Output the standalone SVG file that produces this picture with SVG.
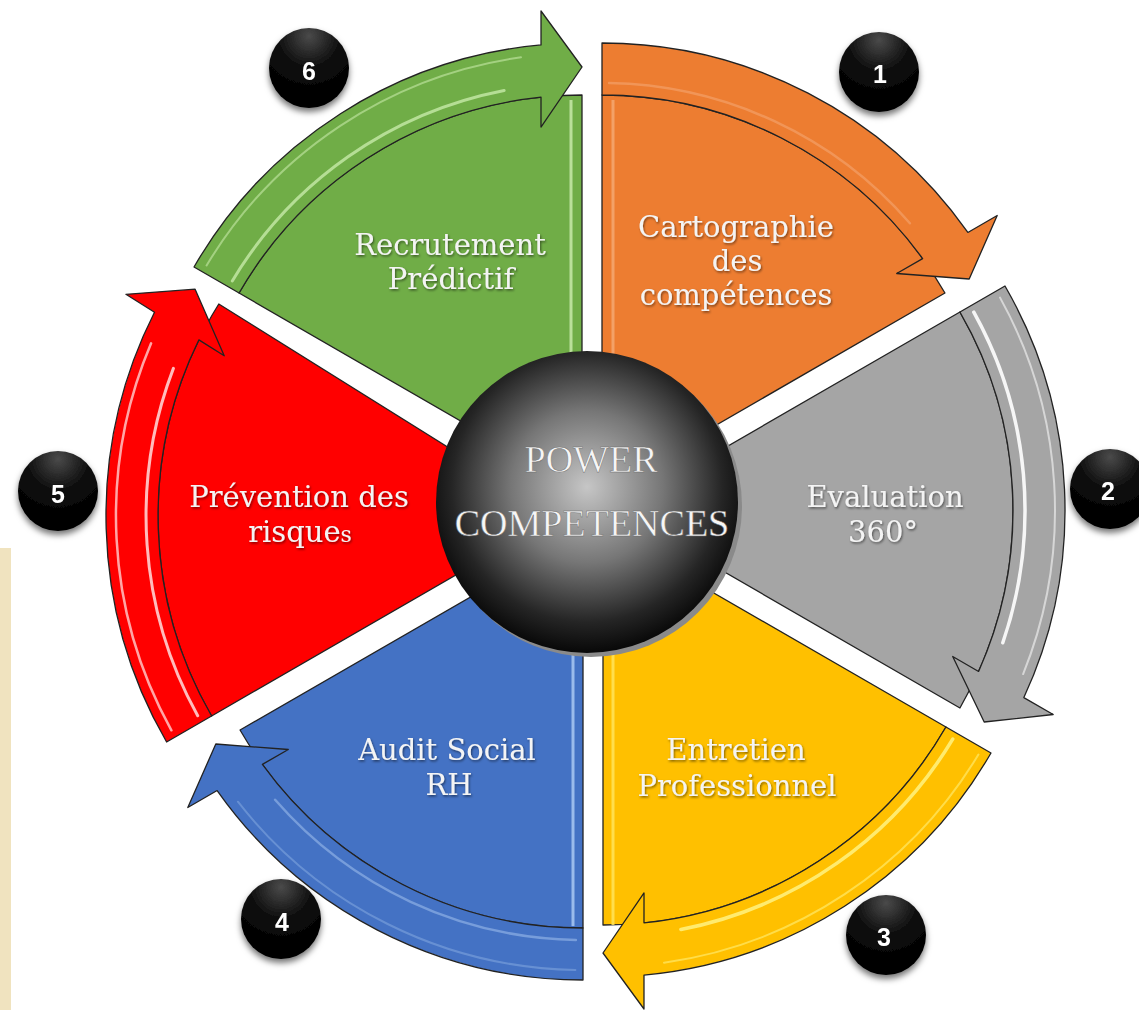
<svg xmlns="http://www.w3.org/2000/svg" xmlns:xlink="http://www.w3.org/1999/xlink" width="1139" height="1010" viewBox="0 0 1139 1010">
<style>
.edge{stroke:#222;stroke-width:1.3;stroke-linejoin:round}
.hl{fill:none;stroke-linecap:round}
.lbl{font-family:"DejaVu Serif","Liberation Serif",serif;font-size:29px;fill:#f4f4f4;text-anchor:middle}
.num{font-family:"Liberation Sans",Arial,sans-serif;font-weight:bold;font-size:25px;fill:#fff;text-anchor:middle}
.ctr{font-family:"Liberation Serif","Times New Roman",serif;font-size:38px;fill:#f6f6f6;stroke:#6a6a6a;stroke-width:0.5;text-anchor:middle}
.badge{fill:url(#badgeGrad)}
</style>
<defs>
  <path id="arrowShape" d="M0,-448 A448,448 0 0 1 365.86,-258.56 L395.2,-275.5 L367.2,-212 L294.7,-217.5 L320.61,-232.43 A396,396 0 0 0 0,-396 Z"/>
  <path id="wedgeShape" d="M0,0 L0,-396 A396,396 0 0 1 342.95,-198 Z"/>
  <path id="hlInner" d="M7.1,-407.9 A408,408 0 0 1 307.9,-267.7"/>
  <path id="hlOuter" d="M7.6,-437.9 A438,438 0 0 1 345.1,-269.7"/>
  <radialGradient id="badgeGrad" cx="0.5" cy="0.1" r="0.8">
    <stop offset="0" stop-color="#4a4a4a"/>
    <stop offset="0.5" stop-color="#0d0d0d"/>
    <stop offset="1" stop-color="#000"/>
  </radialGradient>
  <radialGradient id="centerGrad" cx="0.5" cy="0.45" r="0.56">
    <stop offset="0" stop-color="#c6c6c6"/>
    <stop offset="0.45" stop-color="#767676"/>
    <stop offset="0.8" stop-color="#252525"/>
    <stop offset="1" stop-color="#050505"/>
  </radialGradient>
  <filter id="txtShadow" x="-10%" y="-40%" width="120%" height="180%">
    <feDropShadow dx="1" dy="1.5" stdDeviation="1.2" flood-color="#000" flood-opacity="0.5"/>
  </filter>
  <filter id="badgeShadow" x="-30%" y="-30%" width="160%" height="175%">
    <feDropShadow dx="0" dy="4" stdDeviation="3" flood-color="#000" flood-opacity="0.55"/>
  </filter>
</defs>

<rect x="0" y="0" width="1139" height="1010" fill="#ffffff"/>
<rect x="0" y="548" width="11" height="462" fill="#F0E3BF"/>

<!-- Nodes: wedges and labels -->
<g id="node1">
  <use xlink:href="#wedgeShape" href="#wedgeShape" transform="translate(602,491)" fill="#ED7D31" class="edge"/>
  <line x1="613" y1="100" x2="613" y2="400" stroke="#f7b98c" stroke-width="3" opacity="0.6"/>
  <g filter="url(#txtShadow)">
    <text class="lbl" x="736" y="237">Cartographie</text>
    <text class="lbl" x="737" y="271">des</text>
    <text class="lbl" x="736" y="305">compétences</text>
  </g>
</g>
<g id="node2">
  <use xlink:href="#wedgeShape" href="#wedgeShape" transform="translate(617,510) rotate(60)" fill="#A5A5A5" class="edge"/>
  <g filter="url(#txtShadow)">
    <text class="lbl" x="885" y="507">Evaluation</text>
    <text class="lbl" x="883" y="542">360°</text>
  </g>
</g>
<g id="node3">
  <use xlink:href="#wedgeShape" href="#wedgeShape" transform="translate(603,529) rotate(120)" fill="#FFC000" class="edge"/>
  <line x1="613" y1="640" x2="613" y2="925" stroke="#ffe45a" stroke-width="3" opacity="0.85"/>
  <g filter="url(#txtShadow)">
    <text class="lbl" x="736" y="760">Entretien</text>
    <text class="lbl" x="737" y="796">Professionnel</text>
  </g>
</g>
<g id="node4">
  <use xlink:href="#wedgeShape" href="#wedgeShape" transform="translate(583,532) rotate(180)" fill="#4472C4" class="edge"/>
  <line x1="573" y1="640" x2="573" y2="926" stroke="#a9c8f2" stroke-width="3" opacity="0.85"/>
  <g filter="url(#txtShadow)">
    <text class="lbl" x="447" y="760">Audit Social</text>
    <text class="lbl" x="449" y="795">RH</text>
  </g>
</g>
<g id="node5">
  <path d="M558,516 L211.6,716 A400,400 0 0 1 218.8,304 Z" fill="#FF0000" class="edge"/>
  <g filter="url(#txtShadow)">
    <text class="lbl" x="299" y="507">Prévention des</text>
    <text class="lbl" x="300" y="542">risque<tspan font-size="22px">s</tspan></text>
  </g>
</g>
<g id="node6">
  <use xlink:href="#wedgeShape" href="#wedgeShape" transform="translate(582,491) rotate(-60)" fill="#70AD47" class="edge"/>
  <line x1="571" y1="100" x2="571" y2="400" stroke="#c7eaa9" stroke-width="3" opacity="0.85"/>
  <g filter="url(#txtShadow)">
    <text class="lbl" x="450" y="255">Recrutement</text>
    <text class="lbl" x="451" y="289">Prédictif</text>
  </g>
</g>

<!-- Connectors: circular arrows -->
<g id="connectors">
  <g transform="translate(602,491)">
    <use xlink:href="#arrowShape" href="#arrowShape" fill="#ED7D31" class="edge"/>
    <use xlink:href="#hlInner" href="#hlInner" class="hl" stroke="#f8c3a0" stroke-width="2.5" opacity="0.35"/>
  </g>
  <g transform="translate(617,510) rotate(60)">
    <use xlink:href="#arrowShape" href="#arrowShape" fill="#A5A5A5" class="edge"/>
    <use xlink:href="#hlInner" href="#hlInner" class="hl" stroke="#ffffff" stroke-width="3.5" opacity="0.9"/>
    <use xlink:href="#hlOuter" href="#hlOuter" class="hl" stroke="#ffffff" stroke-width="2" opacity="0.55"/>
  </g>
  <g transform="translate(603,529) rotate(120)">
    <use xlink:href="#arrowShape" href="#arrowShape" fill="#FFC000" class="edge"/>
    <use xlink:href="#hlInner" href="#hlInner" class="hl" stroke="#fff07a" stroke-width="3.5" opacity="0.9"/>
    <use xlink:href="#hlOuter" href="#hlOuter" class="hl" stroke="#fff07a" stroke-width="2" opacity="0.6"/>
  </g>
  <g transform="translate(583,532) rotate(180)">
    <use xlink:href="#arrowShape" href="#arrowShape" fill="#4472C4" class="edge"/>
    <use xlink:href="#hlInner" href="#hlInner" class="hl" stroke="#a9c8f2" stroke-width="2.5" opacity="0.5"/>
    <use xlink:href="#hlOuter" href="#hlOuter" class="hl" stroke="#a9c8f2" stroke-width="2" opacity="0.35"/>
  </g>
  <g>
    <path d="M166.6,742 A452,452 0 0 1 154.5,312.2 L125.9,294.3 L195.1,289.2 L224.2,355.8 L198.9,339.9 A400,400 0 0 0 211.6,716 Z" fill="#FF0000" class="edge"/>
    <path d="M197.7,715.7 A412,412 0 0 1 173.4,368.4" class="hl" stroke="#ffd0d0" stroke-width="3" opacity="0.9"/>
    <path d="M171.4,730.3 A442,442 0 0 1 151.1,343.3" class="hl" stroke="#ffd0d0" stroke-width="2.5" opacity="0.8"/>
  </g>
  <g transform="translate(582,491) rotate(-60)">
    <use xlink:href="#arrowShape" href="#arrowShape" fill="#70AD47" class="edge"/>
    <use xlink:href="#hlInner" href="#hlInner" class="hl" stroke="#c7eaa9" stroke-width="3" opacity="0.8"/>
    <use xlink:href="#hlOuter" href="#hlOuter" class="hl" stroke="#c7eaa9" stroke-width="2" opacity="0.6"/>
  </g>
</g>

<!-- Center node -->
<g id="center">
  <circle cx="591" cy="506" r="151" fill="#8a8a8a"/>
  <circle cx="587" cy="502" r="151" fill="url(#centerGrad)"/>
  <text class="ctr" x="591" y="472">POWER</text>
  <text class="ctr" x="592" y="536">COMPETENCES</text>
</g>

<!-- Number badges -->
<g id="badge1" filter="url(#badgeShadow)"><circle class="badge" cx="879" cy="72" r="40"/><text class="num" x="880" y="83">1</text></g>
<g id="badge2" filter="url(#badgeShadow)"><circle class="badge" cx="1110" cy="489" r="40"/><text class="num" x="1108" y="500">2</text></g>
<g id="badge3" filter="url(#badgeShadow)"><circle class="badge" cx="886" cy="935" r="40"/><text class="num" x="884" y="946">3</text></g>
<g id="badge4" filter="url(#badgeShadow)"><circle class="badge" cx="281" cy="919" r="40"/><text class="num" x="282" y="931">4</text></g>
<g id="badge5" filter="url(#badgeShadow)"><circle class="badge" cx="58" cy="491" r="40"/><text class="num" x="58" y="503">5</text></g>
<g id="badge6" filter="url(#badgeShadow)"><circle class="badge" cx="309" cy="68" r="40"/><text class="num" x="309" y="80">6</text></g>
</svg>
